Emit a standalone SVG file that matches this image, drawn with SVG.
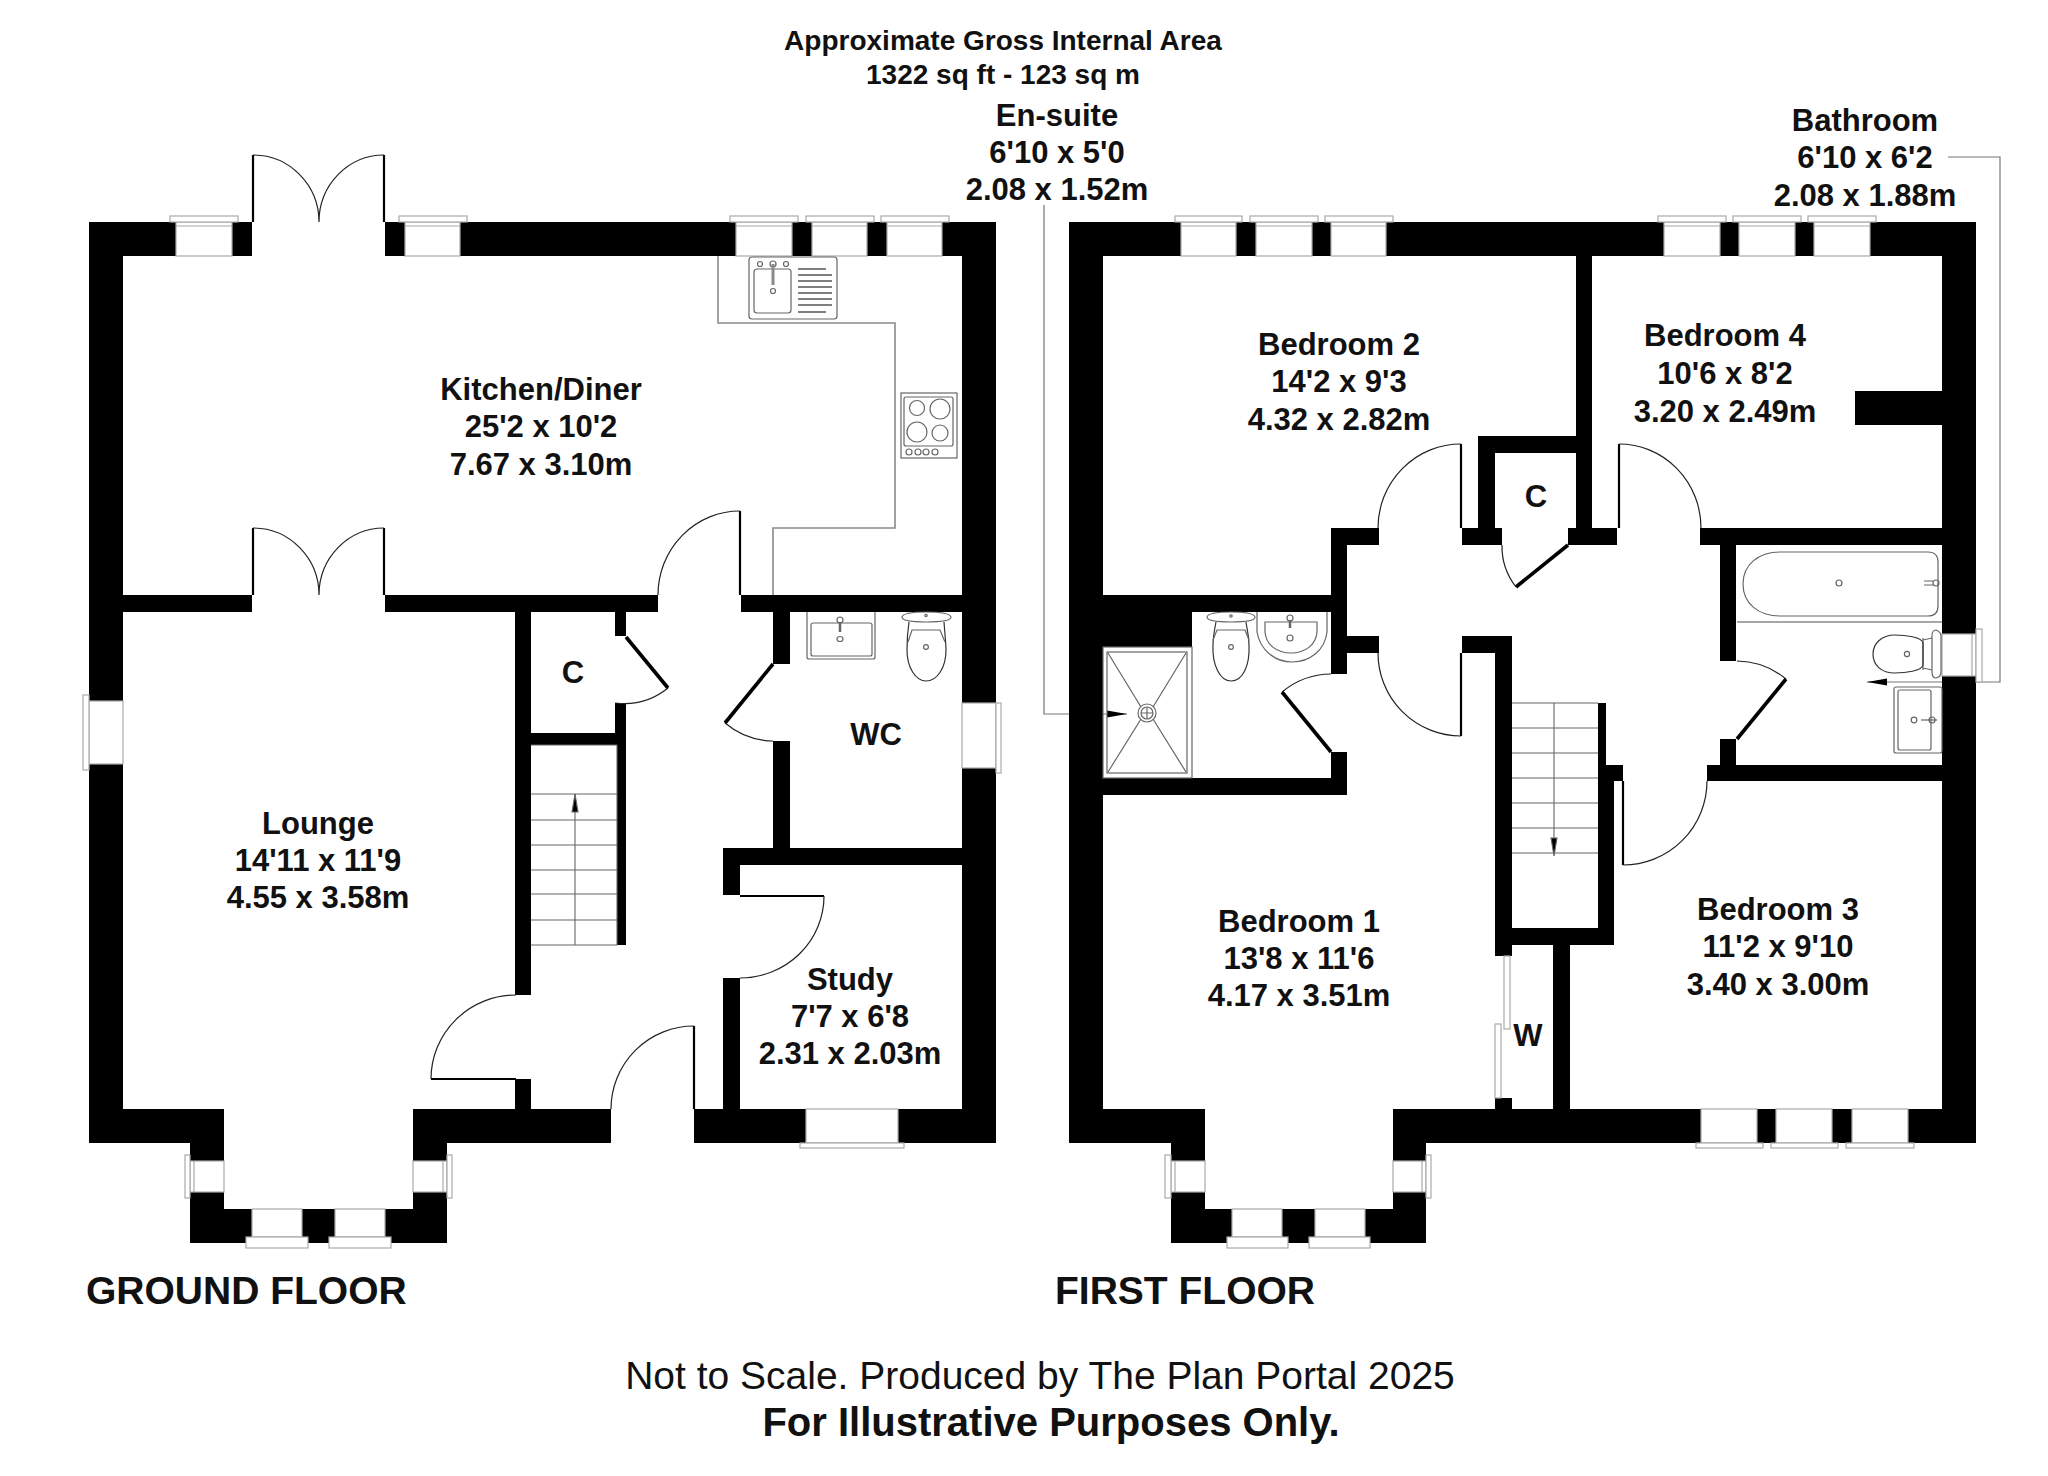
<svg xmlns="http://www.w3.org/2000/svg" width="2048" height="1476" viewBox="0 0 2048 1476">
<style>
text{font-family:"Liberation Sans",Arial,sans-serif;font-weight:700;font-size:31px;fill:#111;text-anchor:middle}
.tt{font-size:28px}
.wall{fill:#000}
.win rect{fill:#fff;stroke:#aaa;stroke-width:1.2}
.win path{fill:none;stroke:#aaa;stroke-width:1.2}
.door path{fill:none;stroke:#222;stroke-width:1.2}
.door .h{stroke:#000;stroke-width:2.2}
.door .t{stroke:#000;stroke-width:3.6}
.fit *{fill:none;stroke:#666;stroke-width:1.2}
.fit .g{stroke:#8a8a8a;stroke-width:1.6}
.stair path{fill:none;stroke:#666;stroke-width:1.1}
.lead path{fill:none;stroke:#777;stroke-width:1.2}
</style>
<defs>
<marker id="ah" markerUnits="userSpaceOnUse" markerWidth="20" markerHeight="8" refX="20" refY="4" orient="auto"><path d="M0 0.5L20 4L0 7.5z" fill="#000"/></marker>
</defs>
<rect width="2048" height="1476" fill="#fff"/>

<g id="connectors" class="lead">
<path d="M1044 205V714H1127" marker-end="url(#ah)"/>
<path d="M1948 157H2000V682H1867" marker-end="url(#ah)"/>
</g>

<g id="ground-floor-walls" class="wall">
<path d="M89 222H252V256H123V1143H89ZM385 222H996V1143H962V256H385Z"/>
<path d="M123 595H252V612H123ZM385 595H658V612H385ZM741 595H962V612H741Z"/>
<path d="M515 612H531V995H515ZM515 1079H531V1109H515Z"/>
<path d="M615 612H626V636H615ZM615 703H626V733H615ZM531 733H626V745H531ZM617 745H626V945H617Z"/>
<path d="M773 612H790V664H773ZM773 741H790V848H773ZM723 848H962V865H723ZM723 865H740V895H723ZM723 978H740V1109H723Z"/>
<path d="M89 1109H224V1143H89ZM413 1109H611V1143H413ZM694 1109H996V1143H694Z"/>
<path d="M190 1143H224V1209H413V1143H447V1243H190Z"/>
</g>
<g id="first-floor-walls" class="wall">
<path d="M1069 222H1976V1143H1942V256H1103V1143H1069Z"/>
<path d="M1576 256H1592V545H1568V528H1576ZM1855 391H1942V425H1855ZM1478 436H1576V453H1495V528H1502V545H1462V528H1478Z"/>
<path d="M1592 528H1617V545H1592ZM1331 528H1379V545H1347V636H1379V653H1347V674H1331V612H1192V647H1103V595H1331Z"/>
<path d="M1331 752H1347V795H1103V778H1331Z"/>
<path d="M1462 636H1512V928H1598V703H1606V765H1623V781H1614V945H1570V1109H1553V945H1512V956H1495V653H1462Z"/>
<path d="M1495 1098H1512V1109H1495Z"/>
<path d="M1700 528H1942V545H1736V661H1720V545H1700ZM1720 739H1736V765H1942V781H1707V765H1720Z"/>
<path d="M1069 1109H1205V1143H1069ZM1393 1109H1976V1143H1393Z"/>
<path d="M1171 1143H1205V1209H1393V1143H1426V1243H1171Z"/>
</g>

<g id="ground-floor-windows" class="win">
<rect x="176" y="222" width="56" height="34"/><rect x="170" y="216" width="68" height="6"/><path d="M176 226H232"/>
<rect x="405" y="222" width="55" height="34"/><rect x="399" y="216" width="68" height="6"/><path d="M405 226H460"/>
<rect x="736" y="222" width="56" height="34"/><rect x="730" y="216" width="68" height="6"/><path d="M736 226H792"/>
<rect x="812" y="222" width="55" height="34"/><rect x="806" y="216" width="68" height="6"/><path d="M812 226H867"/>
<rect x="887" y="222" width="55" height="34"/><rect x="881" y="216" width="68" height="6"/><path d="M887 226H942"/>
<rect x="89" y="701" width="34" height="63"/><rect x="83" y="695" width="6" height="75"/>
<rect x="962" y="703" width="34" height="65"/><rect x="996" y="703" width="5" height="70"/>
<rect x="806" y="1109" width="92" height="34"/><rect x="800" y="1143" width="104" height="5"/>
<rect x="190" y="1161" width="34" height="31"/><rect x="185" y="1155" width="5" height="43"/><path d="M194 1161V1192"/>
<rect x="413" y="1161" width="34" height="31"/><rect x="447" y="1155" width="5" height="43"/><path d="M443 1161V1192"/>
<rect x="252" y="1209" width="50" height="28"/><rect x="246" y="1237" width="62" height="11"/>
<rect x="335" y="1209" width="50" height="28"/><rect x="329" y="1237" width="62" height="11"/>
</g>
<g id="first-floor-windows" class="win">
<rect x="1181" y="222" width="55" height="34"/><rect x="1175" y="216" width="67" height="6"/><path d="M1181 226H1236"/>
<rect x="1256" y="222" width="56" height="34"/><rect x="1250" y="216" width="68" height="6"/><path d="M1256 226H1312"/>
<rect x="1331" y="222" width="55" height="34"/><rect x="1325" y="216" width="68" height="6"/><path d="M1331 226H1386"/>
<rect x="1664" y="222" width="56" height="34"/><rect x="1658" y="216" width="68" height="6"/><path d="M1664 226H1720"/>
<rect x="1739" y="222" width="56" height="34"/><rect x="1733" y="216" width="68" height="6"/><path d="M1739 226H1795"/>
<rect x="1814" y="222" width="56" height="34"/><rect x="1808" y="216" width="68" height="6"/><path d="M1814 226H1870"/>
<rect x="1942" y="634" width="34" height="42"/><rect x="1976" y="629" width="6" height="53"/><path d="M1972 634V676"/>
<rect x="1701" y="1109" width="56" height="34"/><rect x="1696" y="1143" width="67" height="5"/>
<rect x="1776" y="1109" width="56" height="34"/><rect x="1771" y="1143" width="67" height="5"/>
<rect x="1852" y="1109" width="56" height="34"/><rect x="1846" y="1143" width="68" height="5"/>
<rect x="1171" y="1161" width="34" height="31"/><rect x="1165" y="1155" width="6" height="43"/><path d="M1175 1161V1192"/>
<rect x="1393" y="1161" width="33" height="31"/><rect x="1426" y="1155" width="5" height="43"/><path d="M1422 1161V1192"/>
<rect x="1232" y="1209" width="50" height="28"/><rect x="1227" y="1237" width="61" height="11"/>
<rect x="1315" y="1209" width="50" height="28"/><rect x="1309" y="1237" width="61" height="11"/>
<rect x="1504" y="956" width="6" height="73"/><rect x="1495" y="1024" width="6" height="74"/>
</g>

<g id="ground-floor-doors" class="door">
<path class="h" d="M253 222V155M384 222V155"/><path d="M253 155A66 67 0 0 1 319 222M384 155A65 67 0 0 0 319 222"/>
<path class="h" d="M253 595V528M384 595V528"/><path d="M253 528A66 67 0 0 1 319 595M384 528A65 67 0 0 0 319 595"/>
<path class="h" d="M740 595V511"/><path d="M740 511A82 84 0 0 0 658 595"/>
<path class="h" d="M694 1109V1026"/><path d="M694 1026A83 83 0 0 0 611 1109"/>
<path class="h" d="M516 1079H431"/><path d="M431 1079A85 84 0 0 1 516 995"/>
<path class="h" d="M740 896H824"/><path d="M824 896A84 82 0 0 1 740 978"/>
<path class="t" d="M626 637L668 688"/><path d="M668 688A70 70 0 0 1 615 703"/>
<path class="t" d="M773 664L725 723"/><path d="M725 723A77 77 0 0 0 773 741"/>
</g>
<g id="first-floor-doors" class="door">
<path class="h" d="M1461 528V444"/><path d="M1461 444A83 84 0 0 0 1378 528"/>
<path class="h" d="M1619 528V444"/><path d="M1619 444A82 84 0 0 1 1701 528"/>
<path class="t" d="M1568 545L1516 587"/><path d="M1516 587A66 66 0 0 1 1502 545"/>
<path class="t" d="M1331 752L1282 692"/><path d="M1282 692A78 78 0 0 1 1331 674"/>
<path class="h" d="M1461 653V736"/><path d="M1461 736A83 83 0 0 1 1378 653"/>
<path class="t" d="M1737 739L1786 679"/><path d="M1786 679A78 78 0 0 0 1737 661"/>
<path class="h" d="M1623 781V865"/><path d="M1623 865A84 84 0 0 0 1707 781"/>
</g>

<g id="stairs" class="stair">
<path d="M531 745H617V945H531M531 794H617M531 820H617M531 845H617M531 870H617M531 894H617M531 920H617M575 945V794"/>
<path d="M575 794L572 812H578Z" style="fill:#000"/>
<path d="M1512 703H1598M1512 728H1598M1512 753H1598M1512 778H1598M1512 803H1598M1512 828H1598M1512 853H1598M1554 703V853"/>
<path d="M1554 856L1551 838H1557Z" style="fill:#000"/>
</g>

<g id="kitchen-fittings" class="fit">
<path class="g" d="M718 256V323H895V528H773V595"/>
<rect x="749" y="257" width="88" height="62" rx="3"/>
<rect x="754" y="269" width="37" height="44" rx="3"/>
<path d="M798 269H826M798 275H832M798 281H832M798 287H832M798 293H832M798 299H832M798 305H832M798 312H826" style="stroke-width:1.6;stroke:#555"/>
<circle cx="760" cy="264" r="2.5"/><circle cx="773" cy="264" r="3"/><circle cx="786" cy="264" r="2.5"/>
<path class="g" d="M773 264V285" style="stroke-width:3"/><circle cx="773" cy="291" r="2.5"/>
<rect x="901" y="393" width="56" height="65"/><rect x="904" y="397" width="49" height="49" rx="2"/>
<circle cx="917" cy="408" r="7.5"/><circle cx="940" cy="409" r="10"/><circle cx="917" cy="432" r="10"/><circle cx="940" cy="433" r="8"/>
<circle cx="909" cy="452" r="3"/><circle cx="918" cy="452" r="3"/><circle cx="926" cy="452" r="3"/><circle cx="935" cy="452" r="3"/>
</g>
<g id="wc-fittings" class="fit">
<path d="M807 612V657Q807 659 809 659H873Q875 659 875 657V612"/><rect x="811" y="623" width="61" height="33" rx="2"/>
<circle cx="840" cy="620" r="3"/><path d="M840 622V632" style="stroke-width:2.5"/><ellipse cx="840" cy="639" rx="3" ry="2.5"/>
<path d="M902 617Q903 612 926 612Q950 612 951 617Q951 622 926 622Q902 622 902 617Z"/><circle cx="926" cy="615.500" r="1.200"/>
<path d="M909 622C907 635 907 645 907 650C907 668 916 681 926 681C937 681 946 668 946 650C946 645 945 635 944 622" style="stroke:#333"/>
<path d="M908 642L912 630H940L945 642"/><circle cx="926" cy="647" r="2.400"/>
</g>
<g id="ensuite-fittings" class="fit">
<rect x="1103" y="647" width="89" height="131"/><rect x="1107" y="652" width="80" height="121"/>
<path d="M1108 653L1141 707M1186 653L1153 707M1108 772L1141 719M1186 772L1153 719"/>
<circle cx="1147" cy="713" r="9"/><circle cx="1147" cy="713" r="6"/><path d="M1147 707V719M1141 713H1153"/>
<path d="M1207 617Q1208 612 1231 612Q1254 612 1255 617Q1255 622 1231 622Q1207 622 1207 617Z"/><circle cx="1231" cy="616" r="1.200"/>
<path d="M1213 645C1212 665 1220 681 1231 681C1243 681 1250 665 1249 645C1249 635 1247 630 1246 622M1216 622C1214 632 1213 638 1213 645" style="stroke:#333"/><path d="M1213 640L1217 630H1245L1249 640"/><circle cx="1231" cy="647" r="2.400"/>
<path d="M1257 612V632C1260 650 1275 662 1292 662C1310 662 1325 650 1327 632V612"/>
<path d="M1265 622H1317V632C1316 645 1305 653 1291 653C1277 653 1266 645 1265 632Z"/>
<circle cx="1290" cy="618" r="3"/><path d="M1290 620V628" style="stroke-width:2.5"/><circle cx="1290" cy="638" r="3"/>
</g>
<g id="bathroom-fittings" class="fit">
<path class="g" d="M1737 622H1942"/>
<path d="M1780 552H1928Q1938 552 1938 562V606Q1938 616 1928 616H1780C1758 616 1743 603 1743 584C1743 565 1758 552 1780 552Z"/>
<circle cx="1839" cy="583" r="3"/><circle cx="1936" cy="583" r="3"/><path d="M1924 581H1933M1924 585H1933"/>
<path d="M1932 636Q1932 630 1936 630Q1941 632 1941 636V672Q1941 677 1936 678Q1932 678 1932 672Z"/>
<path d="M1923 638V670M1923 640L1932 638M1923 668L1932 670"/>
<path d="M1923 643C1922 637 1905 635 1895 635C1881 635 1873 644 1873 654C1873 665 1881 673 1895 673C1905 673 1922 671 1923 665Z" style="stroke:#333"/>
<circle cx="1907" cy="654" r="2.600"/>
<rect x="1894" y="687" width="48" height="66" rx="2"/><rect x="1898" y="690" width="33" height="60" rx="2"/>
<circle cx="1914" cy="720" r="2.800"/><circle cx="1932" cy="720" r="3"/><path d="M1921 720H1937"/>
</g>

<g id="title"><text class="tt" x="1003" y="50">Approximate Gross Internal Area</text><text class="tt" x="1003" y="84">1322 sq ft - 123 sq m</text></g>
<g id="en-suite"><text x="1057" y="126">En-suite</text><text x="1057" y="163">6'10 x 5'0</text><text x="1057" y="200">2.08 x 1.52m</text></g>
<g id="bathroom"><text x="1865" y="131">Bathroom</text><text x="1865" y="168">6'10 x 6'2</text><text x="1865" y="206">2.08 x 1.88m</text></g>
<g id="kitchen-diner"><text x="541" y="400">Kitchen/Diner</text><text x="541" y="437">25'2 x 10'2</text><text x="541" y="475">7.67 x 3.10m</text></g>
<g id="lounge"><text x="318" y="834">Lounge</text><text x="318" y="871">14'11 x 11'9</text><text x="318" y="908">4.55 x 3.58m</text></g>
<g id="cupboard-ground"><text x="573" y="683">C</text></g>
<g id="wc"><text x="876" y="745">WC</text></g>
<g id="study"><text x="850" y="990">Study</text><text x="850" y="1027">7'7 x 6'8</text><text x="850" y="1064">2.31 x 2.03m</text></g>
<g id="bedroom-2"><text x="1339" y="355">Bedroom 2</text><text x="1339" y="392">14'2 x 9'3</text><text x="1339" y="430">4.32 x 2.82m</text></g>
<g id="bedroom-4"><text x="1725" y="346">Bedroom 4</text><text x="1725" y="384">10'6 x 8'2</text><text x="1725" y="422">3.20 x 2.49m</text></g>
<g id="cupboard-first"><text x="1536" y="507">C</text></g>
<g id="bedroom-1"><text x="1299" y="932">Bedroom 1</text><text x="1299" y="969">13'8 x 11'6</text><text x="1299" y="1006">4.17 x 3.51m</text></g>
<g id="bedroom-3"><text x="1778" y="920">Bedroom 3</text><text x="1778" y="957">11'2 x 9'10</text><text x="1778" y="995">3.40 x 3.00m</text></g>
<g id="wardrobe"><text x="1528" y="1046">W</text></g>
<g id="floor-labels"><text x="86" y="1304" style="text-anchor:start;font-size:39px">GROUND FLOOR</text><text x="1055" y="1304" style="text-anchor:start;font-size:39px">FIRST FLOOR</text></g>
<g id="footer"><text x="1040" y="1389" style="font-weight:400;font-size:39px">Not to Scale. Produced by The Plan Portal 2025</text><text x="1051" y="1436" style="font-size:40px">For Illustrative Purposes Only.</text></g>
</svg>
